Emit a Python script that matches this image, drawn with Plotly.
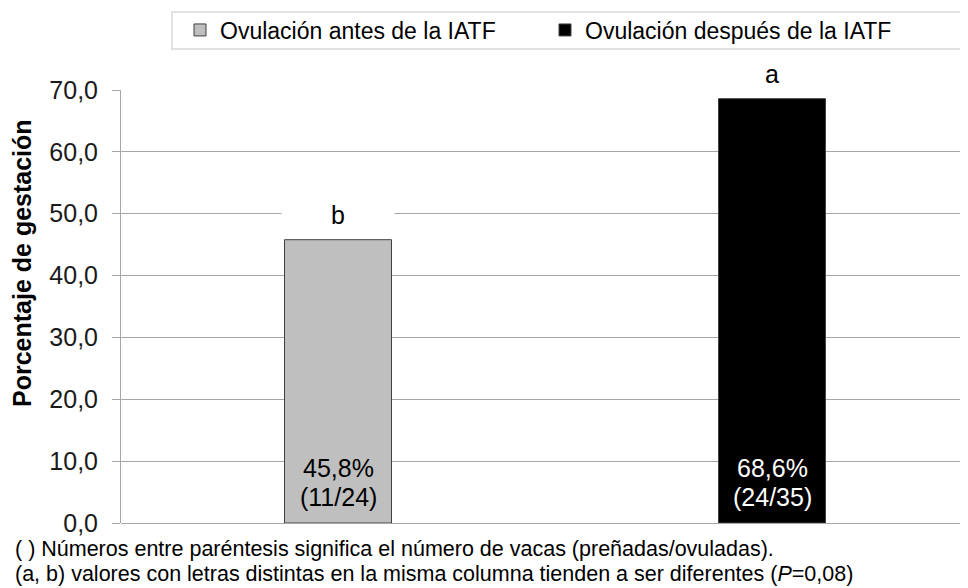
import plotly.graph_objects as go

# ---- data ----
series_names = ["Ovulación antes de la IATF", "Ovulación después de la IATF"]
pregnancy_pct = [45.8, 68.6]
pregnant_counts = [11, 24]
ovulated_counts = [24, 35]
sig_letters = ["b", "a"]
bar_colors = ["#bfbfbf", "#000000"]
label_colors = ["#000000", "#ffffff"]
y_ticks = [0, 10, 20, 30, 40, 50, 60, 70]
y_title = "Porcentaje de gestación"
footnotes = [
    "( ) Números entre paréntesis significa el número de vacas (preñadas/ovuladas).",
    "(a, b) valores con letras distintas en la misma columna tienden a ser diferentes (<i>P</i>=0,08)",
]

FONT = "Liberation Sans, Arial, sans-serif"
OFF = 8                      # page body margin offset
W, H = 960, 580
ML, MR, MT, MB = 113, 0, 82, 65
PW, PH = W - ML - MR, H - MT - MB

def px_x(p):   # screen pixel -> paper
    return (p - OFF - ML) / PW

def px_y(p):
    return (H - MB - (p - OFF)) / PH

fig = go.Figure()
for i, name in enumerate(series_names):
    fig.add_trace(go.Bar(
        x=[i], y=[pregnancy_pct[i]], name=name, width=0.2465,
        marker=dict(color=bar_colors[i], line=dict(color="#404040", width=1)),
        hoverinfo="skip",
    ))
    pct_txt = f"{pregnancy_pct[i]:.1f}".replace(".", ",") + "%"
    cnt_txt = f"({pregnant_counts[i]}/{ovulated_counts[i]})"
    fig.add_annotation(x=i, y=0, xref="x", yref="y", text=pct_txt, showarrow=False,
                       yanchor="middle", yshift=55,
                       font=dict(family=FONT, size=25, color=label_colors[i]))
    fig.add_annotation(x=i, y=0, xref="x", yref="y", text=cnt_txt, showarrow=False,
                       yanchor="middle", yshift=26,
                       font=dict(family=FONT, size=25, color=label_colors[i]))
    fig.add_annotation(x=i, y=pregnancy_pct[i], xref="x", yref="y", text=sig_letters[i],
                       showarrow=False, yanchor="middle", yshift=25,
                       width=110, height=30, bgcolor="white",
                       font=dict(family=FONT, size=25, color="#000000"))

# y-axis title
fig.add_annotation(x=px_x(22), y=px_y(263), xref="paper", yref="paper", text=f"<b>{y_title}</b>",
                   textangle=-90, showarrow=False, xanchor="center", yanchor="middle",
                   font=dict(family=FONT, size=25, color="#000000"))

# footnotes
for txt, yy in zip(footnotes, [549, 574]):
    fig.add_annotation(x=px_x(13), y=px_y(yy), xref="paper", yref="paper", text=txt,
                       showarrow=False, xanchor="left", yanchor="middle",
                       font=dict(family=FONT, size=21.5, color="#000000"))

# legend frame
fig.add_shape(type="rect", xref="paper", yref="paper",
              x0=px_x(172), x1=px_x(980), y0=px_y(49), y1=px_y(12),
              line=dict(color="#d9d9d9", width=1.5), fillcolor="rgba(0,0,0,0)", layer="below")

fig.update_layout(
    width=W, height=H,
    margin=dict(l=ML, r=MR, t=MT, b=MB),
    paper_bgcolor="white", plot_bgcolor="white",
    separators=",.",
    barmode="overlay",
    showlegend=True,
    legend=dict(orientation="h", x=px_x(180), y=px_y(30), xanchor="left", yanchor="middle",
                font=dict(family=FONT, size=23, color="#000000"),
                bgcolor="rgba(0,0,0,0)", borderwidth=0, itemwidth=30,
                entrywidth=320, traceorder="normal"),
    xaxis=dict(range=[-0.5, -0.5 + PW / 434], showticklabels=False, ticks="",
               showgrid=False, zeroline=False, showline=False, fixedrange=True),
    yaxis=dict(range=[0, 70], tickvals=y_ticks, tickformat=".1f",
               showgrid=True, gridcolor="#a6a6a6", gridwidth=1,
               zeroline=True, zerolinecolor="#a6a6a6", zerolinewidth=1,
               showline=True, linecolor="#a6a6a6", linewidth=1,
               ticks="outside", ticklen=8, tickcolor="#a6a6a6", ticklabelstandoff=9,
               tickfont=dict(family=FONT, size=25, color="#1a1a1a"),
               fixedrange=True),
    font=dict(family=FONT),
)

fig.write_html("out.html")
